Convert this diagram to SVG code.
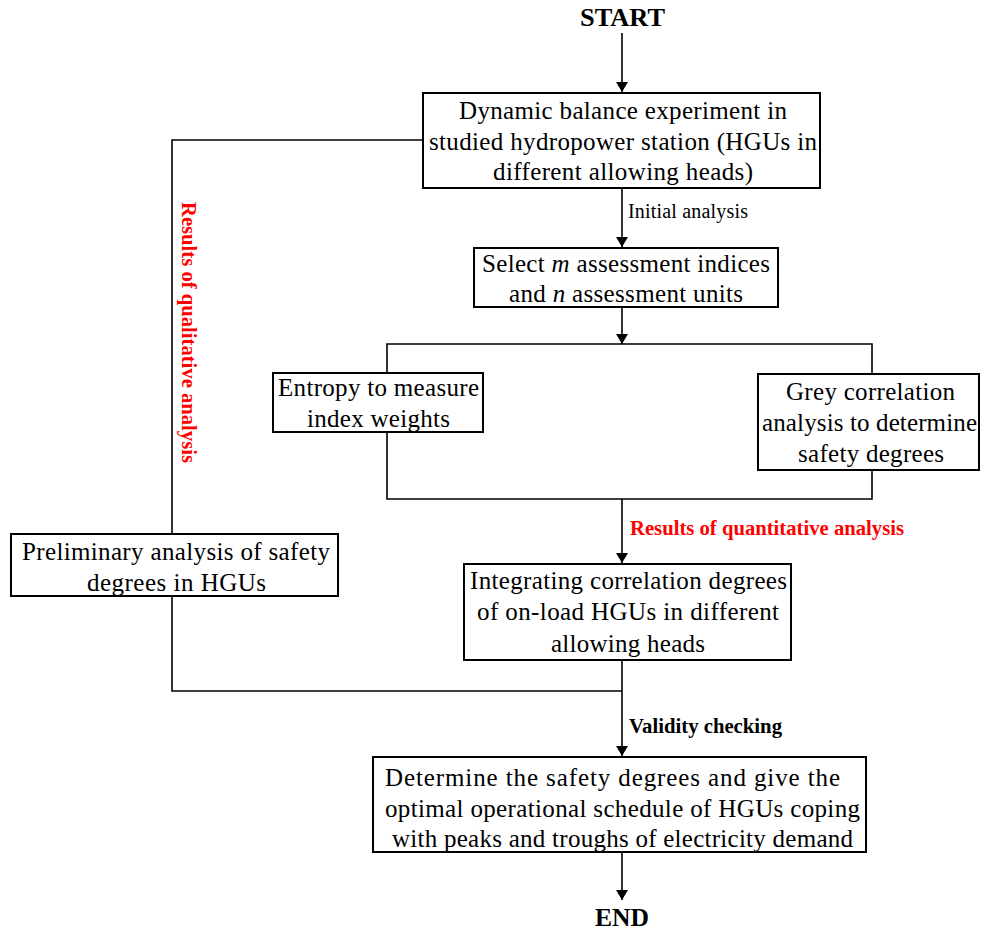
<svg xmlns="http://www.w3.org/2000/svg" width="983" height="930" viewBox="0 0 983 930">
<style>
  .box { fill: #fff; stroke: #000; stroke-width: 2; }
  .ln { fill: none; stroke: #000; stroke-width: 1.6; }
  .t { font-family: "Liberation Serif", "Times New Roman", serif; font-size: 25px; fill: #000; }
  .lbl { font-family: "Liberation Serif", "Times New Roman", serif; font-size: 20px; fill: #000; }
  .b { font-family: "Liberation Serif", "Times New Roman", serif; font-weight: bold; fill: #000; }
  .red { fill: #ff0000; }
  .it { font-style: italic; }
</style>
<defs>
  <marker id="ah" viewBox="0 0 10 12" refX="10" refY="6" markerWidth="10" markerHeight="12" markerUnits="userSpaceOnUse" orient="auto">
    <path d="M0,0 L10,6 L0,12 Z" fill="#000"/>
  </marker>
</defs>
<rect width="983" height="930" fill="#fff"/>

<text class="b" x="580" y="26" font-size="25" textLength="85" lengthAdjust="spacingAndGlyphs">START</text>
<text class="b" x="595" y="926" font-size="25" textLength="54" lengthAdjust="spacingAndGlyphs">END</text>

<g id="connectors">
  <line class="ln" x1="622" y1="33" x2="622" y2="92" marker-end="url(#ah)"/>
  <line class="ln" x1="622" y1="188" x2="622" y2="247" marker-end="url(#ah)"/>
  <line class="ln" x1="622" y1="307" x2="622" y2="344" marker-end="url(#ah)"/>
  <polyline class="ln" points="387,373 387,344 872,344 872,374"/>
  <polyline class="ln" points="387,432 387,499 872,499 872,470"/>
  <line class="ln" x1="622" y1="499" x2="622" y2="563" marker-end="url(#ah)"/>
  <polyline class="ln" points="423,140 172,140 172,534"/>
  <polyline class="ln" points="172,596 172,691 622,691"/>
  <line class="ln" x1="622" y1="660" x2="622" y2="756" marker-end="url(#ah)"/>
  <line class="ln" x1="622" y1="852" x2="622" y2="900" marker-end="url(#ah)"/>
  <text class="lbl" x="628" y="218" textLength="120">Initial analysis</text>
  <text class="b red" x="630" y="535" font-size="21" textLength="274" lengthAdjust="spacingAndGlyphs">Results of quantitative analysis</text>
  <text class="b red" transform="translate(182,202) rotate(90)" x="0" y="0" font-size="21" textLength="261" lengthAdjust="spacingAndGlyphs">Results of qualitative analysis</text>
  <text class="b" x="629" y="733" font-size="20" textLength="153" lengthAdjust="spacingAndGlyphs">Validity checking</text>
</g>

<g id="n1">
  <rect class="box" x="423" y="93" width="397" height="95"/>
  <text class="t" x="459" y="119" textLength="328">Dynamic balance experiment in</text>
  <text class="t" x="429" y="150" textLength="388">studied hydropower station (HGUs in</text>
  <text class="t" x="493" y="180" textLength="260">different allowing heads)</text>
</g>

<g id="n2">
  <rect class="box" x="474" y="248" width="304" height="59"/>
  <text class="t" x="482" y="272" textLength="288">Select <tspan class="it">m</tspan> assessment indices</text>
  <text class="t" x="509" y="302" textLength="234">and <tspan class="it">n</tspan> assessment units</text>
</g>

<g id="n3">
  <rect class="box" x="273" y="373" width="210" height="59"/>
  <text class="t" x="278" y="396" textLength="201">Entropy to measure</text>
  <text class="t" x="307" y="427" textLength="143">index weights</text>
</g>

<g id="n4">
  <rect class="box" x="758" y="374" width="221" height="96"/>
  <text class="t" x="786" y="400" textLength="169">Grey correlation</text>
  <text class="t" x="762" y="431" textLength="215">analysis to determine</text>
  <text class="t" x="798" y="462" textLength="146">safety degrees</text>
</g>

<g id="n5">
  <rect class="box" x="11" y="534" width="327" height="62"/>
  <text class="t" x="22" y="560" textLength="308">Preliminary analysis of safety</text>
  <text class="t" x="87" y="591" textLength="179">degrees in HGUs</text>
</g>

<g id="n6">
  <rect class="box" x="464" y="564" width="327" height="96"/>
  <text class="t" x="470" y="589" textLength="317">Integrating correlation degrees</text>
  <text class="t" x="477" y="620" textLength="302">of on-load HGUs in different</text>
  <text class="t" x="551" y="652" textLength="154">allowing heads</text>
</g>

<g id="n7">
  <rect class="box" x="373" y="757" width="493" height="95"/>
  <text class="t" x="385" y="786" textLength="455">Determine the safety degrees and give the</text>
  <text class="t" x="385" y="817" textLength="475">optimal operational schedule of HGUs coping</text>
  <text class="t" x="392" y="847" textLength="461">with peaks and troughs of electricity demand</text>
</g>
</svg>
